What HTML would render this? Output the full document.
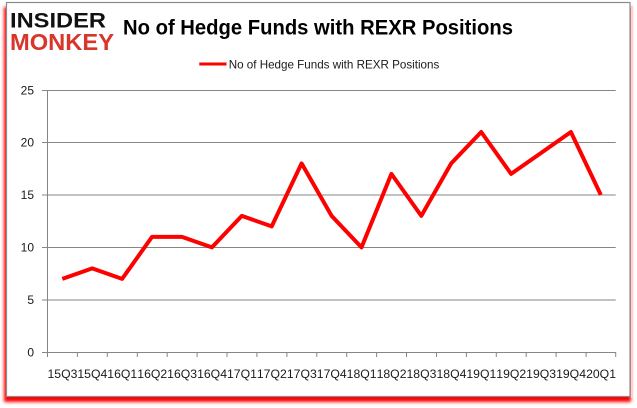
<!DOCTYPE html>
<html>
<head>
<meta charset="utf-8">
<style>
  html, body { margin: 0; padding: 0; background: #ffffff; }
  body { width: 637px; height: 408px; overflow: hidden; }
  svg { display: block; }
  text { font-family: "Liberation Sans", "DejaVu Sans", sans-serif; }
</style>
</head>
<body>
<svg width="637" height="408" viewBox="0 0 637 408" xmlns="http://www.w3.org/2000/svg">
  <defs>
    <filter id="blur" x="-5%" y="-5%" width="110%" height="115%">
      <feGaussianBlur stdDeviation="1.6"/>
    </filter>
  </defs>
  <rect x="0" y="0" width="637" height="408" fill="#ffffff"/>
  <!-- shadow -->
  <rect x="4" y="7" width="627" height="395" fill="#ff0000" filter="url(#blur)"/>
  <rect x="631" y="6" width="2" height="392" fill="#ffd0d0"/>
  <!-- frame -->
  <rect x="6.5" y="2.5" width="623.5" height="394" fill="#ffffff" stroke="#8a8a8a" stroke-width="1.2"/>

  <!-- logo -->
  <text x="10" y="27.5" font-size="21" font-weight="bold" fill="#111111" textLength="96" lengthAdjust="spacingAndGlyphs">INSIDER</text>
  <text x="10" y="50" font-size="23" font-weight="bold" fill="#d8352b" textLength="104" lengthAdjust="spacingAndGlyphs">MONKEY</text>

  <!-- title -->
  <text x="123" y="34.3" font-size="21" font-weight="bold" fill="#000000" textLength="390" lengthAdjust="spacingAndGlyphs">No of Hedge Funds with REXR Positions</text>

  <!-- legend -->
  <line x1="199.3" y1="64" x2="226.5" y2="64" stroke="#ff0000" stroke-width="3"/>
  <text x="228.7" y="68.3" font-size="12" fill="#1a1a1a" textLength="210.6" lengthAdjust="spacingAndGlyphs">No of Hedge Funds with REXR Positions</text>

  <!-- gridlines -->
  <g stroke="#868686" stroke-width="1">
    <line x1="42" y1="90.5" x2="615.7" y2="90.5"/>
    <line x1="42" y1="142.5" x2="615.7" y2="142.5"/>
    <line x1="42" y1="195" x2="615.7" y2="195"/>
    <line x1="42" y1="247.5" x2="615.7" y2="247.5"/>
    <line x1="42" y1="300" x2="615.7" y2="300"/>
    <line x1="42" y1="352.5" x2="615.7" y2="352.5"/>
    <line x1="47.5" y1="90" x2="47.5" y2="352.5"/>
  </g>
  <!-- x ticks -->
  <g stroke="#868686" stroke-width="1">
    <line x1="47.5" y1="352" x2="47.5" y2="357"/>
    <line x1="77.4" y1="352" x2="77.4" y2="357"/>
    <line x1="107.3" y1="352" x2="107.3" y2="357"/>
    <line x1="137.3" y1="352" x2="137.3" y2="357"/>
    <line x1="167.2" y1="352" x2="167.2" y2="357"/>
    <line x1="197.1" y1="352" x2="197.1" y2="357"/>
    <line x1="227.0" y1="352" x2="227.0" y2="357"/>
    <line x1="256.9" y1="352" x2="256.9" y2="357"/>
    <line x1="286.9" y1="352" x2="286.9" y2="357"/>
    <line x1="316.8" y1="352" x2="316.8" y2="357"/>
    <line x1="346.7" y1="352" x2="346.7" y2="357"/>
    <line x1="376.6" y1="352" x2="376.6" y2="357"/>
    <line x1="406.5" y1="352" x2="406.5" y2="357"/>
    <line x1="436.5" y1="352" x2="436.5" y2="357"/>
    <line x1="466.4" y1="352" x2="466.4" y2="357"/>
    <line x1="496.3" y1="352" x2="496.3" y2="357"/>
    <line x1="526.2" y1="352" x2="526.2" y2="357"/>
    <line x1="556.1" y1="352" x2="556.1" y2="357"/>
    <line x1="586.1" y1="352" x2="586.1" y2="357"/>
    <line x1="615.7" y1="352" x2="615.7" y2="357"/>
  </g>

  <!-- y labels -->
  <g font-size="12" fill="#1a1a1a" text-anchor="end">
    <text x="34" y="94.5">25</text>
    <text x="34" y="146.5">20</text>
    <text x="34" y="199">15</text>
    <text x="34" y="251.5">10</text>
    <text x="34" y="304">5</text>
    <text x="34" y="356.5">0</text>
  </g>

  <!-- x labels -->
  <g font-size="12" fill="#1a1a1a">
    <text x="47.5" y="378" textLength="29.9" lengthAdjust="spacingAndGlyphs">15Q3</text>
    <text x="77.4" y="378" textLength="29.9" lengthAdjust="spacingAndGlyphs">15Q4</text>
    <text x="107.3" y="378" textLength="29.9" lengthAdjust="spacingAndGlyphs">16Q1</text>
    <text x="137.3" y="378" textLength="29.9" lengthAdjust="spacingAndGlyphs">16Q2</text>
    <text x="167.2" y="378" textLength="29.9" lengthAdjust="spacingAndGlyphs">16Q3</text>
    <text x="197.1" y="378" textLength="29.9" lengthAdjust="spacingAndGlyphs">16Q4</text>
    <text x="227.0" y="378" textLength="29.9" lengthAdjust="spacingAndGlyphs">17Q1</text>
    <text x="256.9" y="378" textLength="29.9" lengthAdjust="spacingAndGlyphs">17Q2</text>
    <text x="286.9" y="378" textLength="29.9" lengthAdjust="spacingAndGlyphs">17Q3</text>
    <text x="316.8" y="378" textLength="29.9" lengthAdjust="spacingAndGlyphs">17Q4</text>
    <text x="346.7" y="378" textLength="29.9" lengthAdjust="spacingAndGlyphs">18Q1</text>
    <text x="376.6" y="378" textLength="29.9" lengthAdjust="spacingAndGlyphs">18Q2</text>
    <text x="406.5" y="378" textLength="29.9" lengthAdjust="spacingAndGlyphs">18Q3</text>
    <text x="436.5" y="378" textLength="29.9" lengthAdjust="spacingAndGlyphs">18Q4</text>
    <text x="466.4" y="378" textLength="29.9" lengthAdjust="spacingAndGlyphs">19Q1</text>
    <text x="496.3" y="378" textLength="29.9" lengthAdjust="spacingAndGlyphs">19Q2</text>
    <text x="526.2" y="378" textLength="29.9" lengthAdjust="spacingAndGlyphs">19Q3</text>
    <text x="556.1" y="378" textLength="29.9" lengthAdjust="spacingAndGlyphs">19Q4</text>
    <text x="586.1" y="378" textLength="29.9" lengthAdjust="spacingAndGlyphs">20Q1</text>
  </g>

  <!-- series -->
  <polyline fill="none" stroke="#ff0000" stroke-width="4" stroke-linejoin="round" stroke-linecap="butt"
    points="62.3,278.9 92.2,268.4 122.1,278.9 152.0,236.9 182.0,236.9 211.9,247.4 241.8,215.9 271.7,226.4 301.6,163.4 331.6,215.9 361.5,247.4 391.4,173.9 421.3,215.9 451.2,163.4 481.2,132.0 511.1,173.9 541.0,153.0 570.9,132.0 600.8,194.9"/>
</svg>
</body>
</html>
